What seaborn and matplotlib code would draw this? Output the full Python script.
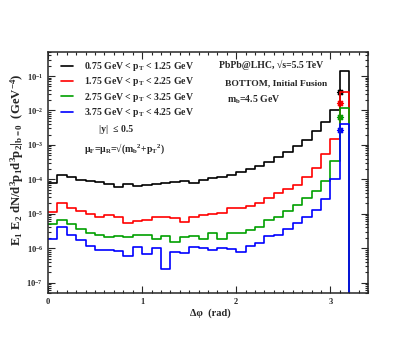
import matplotlib
matplotlib.use('Agg')
import matplotlib.pyplot as plt
import numpy as np
import seaborn as sns
from matplotlib.ticker import MultipleLocator, LogLocator, NullFormatter

# Histogram bins (dphi, rad), 0.1 wide; the last bin is empty so the curves drop to the axis
edges = [round(0.1 * i, 2) for i in range(34)]
centers = [e + 0.05 for e in edges[:-1]]

# Bin contents
pt_075_125 = [7.6e-5, 1.30e-4, 1.19e-4, 9.7e-5, 9.1e-5, 8.5e-5, 7.3e-5, 5.8e-5, 7.3e-5, 6.4e-5,
              6.8e-5, 7.3e-5, 7.6e-5, 8.5e-5, 8.7e-5, 8.1e-5, 9.5e-5, 1.07e-4, 1.14e-4, 1.33e-4,
              1.6e-4, 2.0e-4, 2.5e-4, 3.2e-4, 4.4e-4, 6.1e-4, 9.0e-4, 1.4e-3, 2.5e-3, 4.5e-3,
              1.05e-2, 0.14, 0]
pt_175_225 = [1.16e-5, 2.0e-5, 1.52e-5, 1.22e-5, 9.7e-6, 8.1e-6, 9.1e-6, 8.1e-6, 5.4e-6, 6.2e-6,
              6.4e-6, 7.8e-6, 7.8e-6, 7.4e-6, 5.9e-6, 8.1e-6, 9.1e-6, 9.8e-6, 1.05e-5, 1.46e-5,
              1.46e-5, 1.7e-5, 2.0e-5, 2.85e-5, 3.9e-5, 5.2e-5, 6.8e-5, 1.14e-4, 2.2e-4, 5.5e-4,
              1.45e-3, 0.034, 0]
pt_275_325 = [5.0e-6, 6.8e-6, 5.2e-6, 3.55e-6, 2.8e-6, 2.4e-6, 2.1e-6, 2.3e-6, 2.05e-6, 2.5e-6,
              2.4e-6, 1.9e-6, 2.26e-6, 1.5e-6, 2.1e-6, 2.26e-6, 1.9e-6, 2.8e-6, 1.9e-6, 2.8e-6,
              2.8e-6, 3.3e-6, 4.2e-6, 6.4e-6, 7.8e-6, 1.22e-5, 1.8e-5, 2.8e-5, 4.5e-5, 9.0e-5,
              3.4e-4, 0.0115, 0]
pt_375_425 = [1.9e-6, 4.0e-6, 2.4e-6, 1.7e-6, 1.16e-6, 8.7e-7, 8.7e-7, 8.3e-7, 6.1e-7, 1.08e-6,
              6.6e-7, 1.0e-6, 2.5e-7, 7.9e-7, 7.4e-7, 1.1e-6, 1.03e-6, 8.8e-7, 1.0e-6, 9.3e-7,
              8.0e-7, 1.16e-6, 1.45e-6, 2.26e-6, 2.4e-6, 3.55e-6, 5.3e-6, 7.8e-6, 1.25e-5, 2.6e-5,
              1.0e-4, 4.0e-3, 0]

# back-to-back points (stars)
star_x = [3.1, 3.1, 3.1, 3.1]
star_y = [0.035, 0.016, 6.3e-3, 2.7e-3]

x_ticks = [0, 1, 2, 3]
y_ticks = [1e-7, 1e-6, 1e-5, 1e-4, 1e-3, 1e-2, 1e-1]

labels = ['0.75 GeV < p$_T$ < 1.25 GeV', '1.75 GeV < p$_T$ < 2.25 GeV',
          '2.75 GeV < p$_T$ < 3.25 GeV', '3.75 GeV < p$_T$ < 4.25 GeV']
colors = ['black', '#ff0000', '#00a000', '#0000ff']
series = [pt_075_125, pt_175_225, pt_275_325, pt_375_425]

sns.set_theme(style='ticks')
plt.rcParams['font.family'] = ['Liberation Serif', 'DejaVu Serif']
plt.rcParams['font.weight'] = 'bold'
plt.rcParams['mathtext.fontset'] = 'custom'
plt.rcParams['mathtext.rm'] = 'Liberation Serif:bold'
plt.rcParams['mathtext.it'] = 'Liberation Serif:bold'
plt.rcParams['mathtext.bf'] = 'Liberation Serif:bold'

fig = plt.figure(figsize=(4.15, 3.46), dpi=100)
ax = fig.add_axes([48/415, 1-293/346, 320/415, 241/346])

for vals, c, lab in zip(series, colors, labels):
    sns.histplot(x=centers, weights=vals, bins=edges, element='step', fill=False,
                 color=c, linewidth=1.2, label=lab, ax=ax)

for x, y, c in zip(star_x, star_y, colors):
    sns.scatterplot(x=[x], y=[y], color=c, marker=(8, 2, 0), s=18, linewidth=1.0, ax=ax)

ax.set_yscale('log')
ax.set_xlim(0, 3.4)
ax.set_ylim(5e-8, 0.5)
ax.set_xlabel('')
ax.set_ylabel('')

ax.set_xticks(x_ticks)
ax.xaxis.set_minor_locator(MultipleLocator(0.1))
ax.set_yticks(y_ticks)
ax.yaxis.set_minor_locator(LogLocator(base=10, subs=np.arange(2, 10), numticks=20))
ax.yaxis.set_minor_formatter(NullFormatter())
ax.tick_params(which='both', direction='in', top=True, right=True, width=0.8)
ax.tick_params(which='major', length=5, labelsize=6, pad=3.5)
ax.tick_params(which='minor', length=2.5)
for lbl in ax.get_xticklabels() + ax.get_yticklabels():
    lbl.set_fontweight('bold')
for s in ax.spines.values():
    s.set_linewidth(1.1)

ax.legend(loc='upper left', bbox_to_anchor=(61/415, 1-60/346), bbox_transform=fig.transFigure,
          frameon=False, fontsize=7, handlelength=1.2, handletextpad=1.2, labelspacing=0.25,
          borderpad=0, borderaxespad=0)

fig.text(116/415, 1-130/346, '|y|  ≤ 0.5', ha='center', va='center', fontsize=7, fontweight='bold')
fig.text(124/415, 1-149/346, 'μ$_F$=μ$_R$=√(m$_b$$^2$+p$_T$$^2$)', ha='center', va='center',
         fontsize=7, fontweight='bold')
fig.text(271/415, 1-65/346, 'PbPb@LHC, √s=5.5 TeV', ha='center', va='center', fontsize=7,
         fontweight='bold')
fig.text(276/415, 1-83/346, 'BOTTOM, Initial Fusion', ha='center', va='center', fontsize=6.8,
         fontweight='bold')
fig.text(254/415, 1-100/346, 'm$_b$=4.5 GeV', ha='center', va='center', fontsize=7,
         fontweight='bold')

fig.text(210/415, 1-313/346, 'Δφ  (rad)', ha='center', va='center', fontsize=7.5, fontweight='bold')
fig.text(17/415, 1-160/346, 'E$_1$ E$_2$ dN/d$^3$p$_1$d$^3$p$_2$|$_{b=0}$  (GeV$^{-4}$)',
         rotation=90, ha='center', va='center', fontsize=9.2, fontweight='bold')

fig.savefig('out.png', dpi=100)
